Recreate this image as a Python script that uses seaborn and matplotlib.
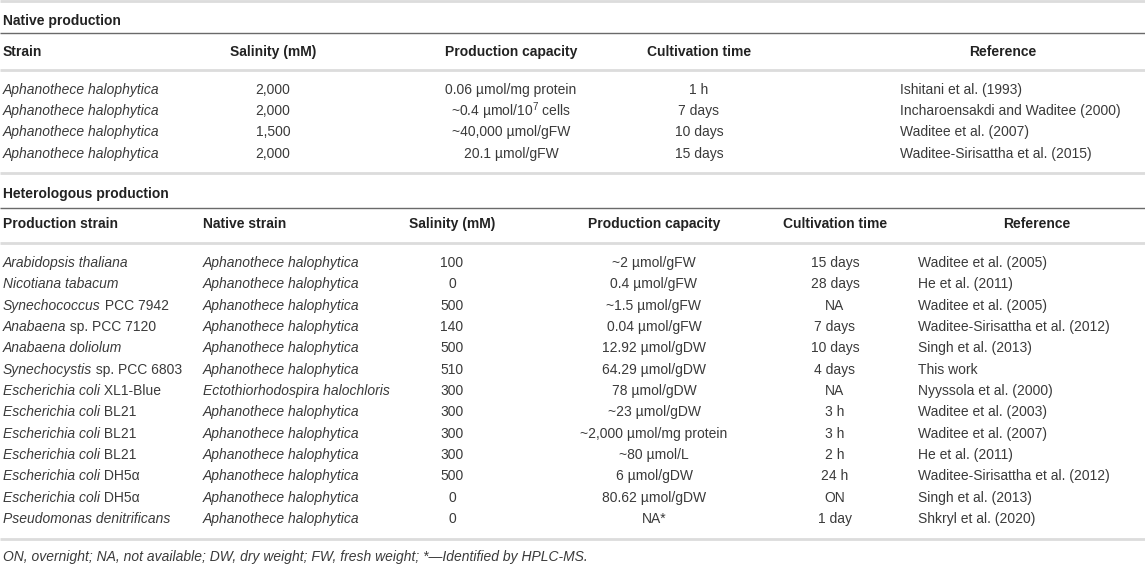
import seaborn as sns
import matplotlib.pyplot as plt

# Native production table
native_strain = ["Aphanothece halophytica"] * 4
native_salinity = ["2,000", "2,000", "1,500", "2,000"]
native_capacity = ["0.06 µmol/mg protein", "~0.4 µmol/10$^{7}$ cells",
                   "~40,000 µmol/gFW", "20.1 µmol/gFW"]
native_time = ["1 h", "7 days", "10 days", "15 days"]
native_ref = ["Ishitani et al. (1993)", "Incharoensakdi and Waditee (2000)",
              "Waditee et al. (2007)", "Waditee-Sirisattha et al. (2015)"]

# Heterologous production table
het_strain_italic = ["Arabidopsis thaliana", "Nicotiana tabacum", "Synechococcus",
                     "Anabaena", "Anabaena doliolum", "Synechocystis",
                     "Escherichia coli", "Escherichia coli", "Escherichia coli",
                     "Escherichia coli", "Escherichia coli", "Escherichia coli",
                     "Pseudomonas denitrificans"]
het_strain_suffix = ["", "", " PCC 7942", " sp. PCC 7120", "", " sp. PCC 6803",
                     " XL1-Blue", " BL21", " BL21", " BL21", " DH5α", " DH5α", ""]
het_native = ["Aphanothece halophytica"] * 6 + ["Ectothiorhodospira halochloris"] + \
             ["Aphanothece halophytica"] * 6
het_salinity = ["100", "0", "500", "140", "500", "510", "300", "300", "300", "300",
                "500", "0", "0"]
het_capacity = ["~2 µmol/gFW", "0.4 µmol/gFW", "~1.5 µmol/gFW", "0.04 µmol/gFW",
                "12.92 µmol/gDW", "64.29 µmol/gDW", "78 µmol/gDW", "~23 µmol/gDW",
                "~2,000 µmol/mg protein", "~80 µmol/L", "6 µmol/gDW",
                "80.62 µmol/gDW", "NA*"]
het_time = ["15 days", "28 days", "NA", "7 days", "10 days", "4 days", "NA", "3 h",
            "3 h", "2 h", "24 h", "ON", "1 day"]
het_ref = ["Waditee et al. (2005)", "He et al. (2011)", "Waditee et al. (2005)",
           "Waditee-Sirisattha et al. (2012)", "Singh et al. (2013)", "This work",
           "Nyyssola et al. (2000)", "Waditee et al. (2003)", "Waditee et al. (2007)",
           "He et al. (2011)", "Waditee-Sirisattha et al. (2012)", "Singh et al. (2013)",
           "Shkryl et al. (2020)"]

footnote = ("ON, overnight; NA, not available; DW, dry weight; FW, fresh weight; "
            "*\u2014Identified by HPLC-MS.")

sns.set_theme(style="white")
plt.rcParams['font.family'] = ['Liberation Sans', 'DejaVu Sans']
plt.rcParams['mathtext.fontset'] = 'custom'
plt.rcParams['mathtext.rm'] = 'Liberation Sans'

W, H = 1145, 564
fig = plt.figure(figsize=(W / 100, H / 100), dpi=100)
ax = fig.add_axes([0, 0, 1, 1])
ax.set_xlim(0, W)
ax.set_ylim(H, 0)
ax.axis('off')
renderer = fig.canvas.get_renderer()

FS = 10
BODY = '#3a3a3a'
HEAD = '#222222'
LIGHT = '#dcdcdc'
DARK = '#6a6a6a'


def hline(y, color, lw):
    ax.plot([0, W], [y, y], color=color, lw=lw, solid_capstyle='butt')


def put(x, y, s, ha='left', **kw):
    return ax.text(x, y, s, ha=ha, va='center', fontsize=FS, color=kw.pop('color', BODY), **kw)


def put_mixed(x, y, italic, plain):
    t = put(x, y, italic, style='italic')
    if plain:
        w = t.get_window_extent(renderer=renderer).width
        put(x + w, y, plain)


# --- Native production ---
hline(1, LIGHT, 2)
put(3, 21, "Native production", color=HEAD, fontweight='bold')
hline(33, DARK, 1)
nat_cols = [("Strain", 3, 'left'), ("Salinity (mM)", 273, 'center'),
            ("Production capacity", 511, 'center'), ("Cultivation time", 699, 'center'),
            ("Reference", 1003, 'center')]
for label, x, ha in nat_cols:
    put(x, 52, label, ha=ha, color=HEAD, fontweight='bold')
hline(70, LIGHT, 2)

row0, dy = 90, 21.2
for i in range(len(native_strain)):
    y = row0 + i * dy
    put(3, y, native_strain[i], style='italic')
    put(273, y, native_salinity[i], ha='center')
    put(511, y, native_capacity[i], ha='center')
    put(699, y, native_time[i], ha='center')
    put(900, y, native_ref[i])
hline(173, LIGHT, 2)

# --- Heterologous production ---
put(3, 194, "Heterologous production", color=HEAD, fontweight='bold')
hline(208, DARK, 1)
het_cols = [("Production strain", 3, 'left'), ("Native strain", 203, 'left'),
            ("Salinity (mM)", 452, 'center'), ("Production capacity", 654, 'center'),
            ("Cultivation time", 835, 'center'), ("Reference", 1037, 'center')]
for label, x, ha in het_cols:
    put(x, 224, label, ha=ha, color=HEAD, fontweight='bold')
hline(243, LIGHT, 2)

row0, dy = 263, 21.33
for i in range(len(het_strain_italic)):
    y = row0 + i * dy
    put_mixed(3, y, het_strain_italic[i], het_strain_suffix[i])
    put(203, y, het_native[i], style='italic')
    put(452, y, het_salinity[i], ha='center')
    put(654, y, het_capacity[i], ha='center')
    put(835, y, het_time[i], ha='center')
    put(918, y, het_ref[i])
hline(539, LIGHT, 2)

put(3, 557, footnote, style='italic')

fig.savefig('out.png', dpi=100)
